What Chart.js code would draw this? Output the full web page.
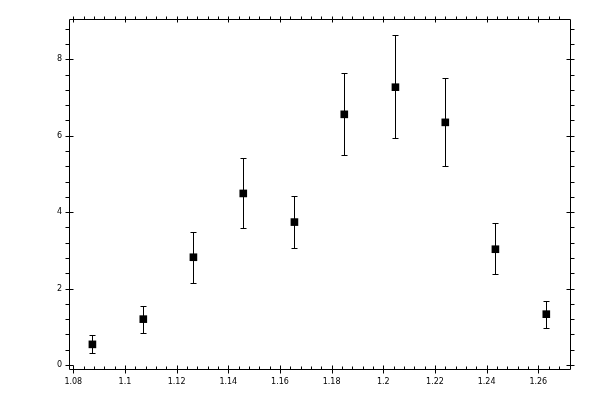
<!DOCTYPE html>
<html>
<head>
<meta charset="utf-8">
<script src="https://cdn.jsdelivr.net/npm/chart.js@4/dist/chart.umd.min.js"></script>
<style>
  html, body { margin: 0; padding: 0; background: #fff; }
  #chart { display: block; }
</style>
</head>
<body>
<canvas id="chart" width="600" height="400"></canvas>
<script>
// ========== DATA ==========
const xValues = [1.0874, 1.1071, 1.1265, 1.1458, 1.1656, 1.1849, 1.2047, 1.2240, 1.2434, 1.2631];
const yValues = [0.54, 1.20, 2.82, 4.49, 3.74, 6.56, 7.27, 6.35, 3.03, 1.33];
const yLow    = [0.32, 0.83, 2.14, 3.58, 3.05, 5.49, 5.93, 5.20, 2.38, 0.96];
const yHigh   = [0.78, 1.54, 3.47, 5.41, 4.42, 7.63, 8.63, 7.51, 3.72, 1.67];

const xMajorTicks = [1.08, 1.10, 1.12, 1.14, 1.16, 1.18, 1.20, 1.22, 1.24, 1.26];
const xTickLabels = ['1.08', '1.1', '1.12', '1.14', '1.16', '1.18', '1.2', '1.22', '1.24', '1.26'];
const yMajorTicks = [0, 2, 4, 6, 8];
const yTickLabels = ['0', '2', '4', '6', '8'];
const xMinorStep = 0.004;
const yMinorStep = 0.4;

// ========== PLUGINS ==========

// vertical error bars with small caps
const errorBars = {
    id: 'errorBars',
    afterDatasetsDraw(chart) {
        const { ctx, scales: { x, y } } = chart;
        ctx.save();
        ctx.strokeStyle = '#000';
        ctx.lineWidth = 1;
        xValues.forEach((xv, i) => {
            const px = Math.round(x.getPixelForValue(xv)) + 0.5;
            const top = Math.round(y.getPixelForValue(yHigh[i])) + 0.5;
            const bot = Math.round(y.getPixelForValue(yLow[i])) + 0.5;
            ctx.beginPath();
            ctx.moveTo(px, top); ctx.lineTo(px, bot);
            ctx.moveTo(px - 3, top); ctx.lineTo(px + 3, top);
            ctx.moveTo(px - 3, bot); ctx.lineTo(px + 3, bot);
            ctx.stroke();
        });
        ctx.restore();
    }
};

// boxed frame with ticks on all four sides and tick labels
const frameAxes = {
    id: 'frameAxes',
    afterDraw(chart) {
        const { ctx, chartArea: a, scales: { x, y } } = chart;
        const L = a.left + 0.5, R = a.right - 0.5, T = a.top + 0.5, B = a.bottom - 0.5;
        ctx.save();
        ctx.strokeStyle = '#000';
        ctx.lineWidth = 1;
        ctx.beginPath();
        ctx.rect(L, T, R - L, B - T);
        ctx.stroke();

        const line = (x1, y1, x2, y2) => { ctx.moveTo(x1, y1); ctx.lineTo(x2, y2); };
        ctx.beginPath();
        // x majors (bottom + top)
        xMajorTicks.forEach(v => {
            const px = Math.round(x.getPixelForValue(v)) + 0.5;
            line(px, B - 4, px, B + 4);
            line(px, T - 3, px, T + 3);
        });
        // x minors
        for (let k = 1; ; k++) {
            const v = xMajorTicks[0] + k * xMinorStep;
            if (v >= x.max) break;
            if (k % 5 === 0) continue;
            const px = Math.round(x.getPixelForValue(v)) + 0.5;
            if (px > R - 2) break;
            line(px, B - 3, px, B);
            line(px, T - 3, px, T);
        }
        // y majors (left + right)
        yMajorTicks.forEach(v => {
            const py = Math.round(y.getPixelForValue(v)) + 0.5;
            line(L - 4, py, L + 4, py);
            line(R - 4, py, R + 4, py);
        });
        // y minors
        for (let k = 1; ; k++) {
            const v = yMajorTicks[0] + k * yMinorStep;
            if (v >= y.max) break;
            if (k % 5 === 0) continue;
            const py = Math.round(y.getPixelForValue(v)) + 0.5;
            if (py < T + 2) break;
            line(L - 4, py, L, py);
            line(R, py, R + 4, py);
        }
        ctx.stroke();

        // labels
        ctx.fillStyle = '#000';
        ctx.font = '8px "DejaVu Sans"';
        ctx.textAlign = 'center';
        ctx.textBaseline = 'middle';
        xMajorTicks.forEach((v, i) => {
            ctx.fillText(xTickLabels[i], x.getPixelForValue(v), 382);
        });
        ctx.textAlign = 'right';
        yMajorTicks.forEach((v, i) => {
            ctx.fillText(yTickLabels[i], 62, y.getPixelForValue(v));
        });
        ctx.restore();
    }
};

// ========== CHART ==========
new Chart(document.getElementById('chart'), {
    type: 'scatter',
    data: {
        datasets: [{
            data: xValues.map((xv, i) => ({ x: xv, y: yValues[i] })),
            pointStyle: 'rect',
            pointRadius: 5.4,
            pointHoverRadius: 5.4,
            backgroundColor: '#000',
            borderWidth: 0
        }]
    },
    options: {
        responsive: false,
        animation: false,
        layout: { padding: { left: 69, top: 19, right: 29, bottom: 30 } },
        scales: {
            x: { type: 'linear', display: false, min: 1.07834, max: 1.27266 },
            y: { type: 'linear', display: false, min: -0.131, max: 9.055 }
        },
        plugins: { legend: { display: false }, tooltip: { enabled: false } }
    },
    plugins: [errorBars, frameAxes]
});
</script>
</body>
</html>
